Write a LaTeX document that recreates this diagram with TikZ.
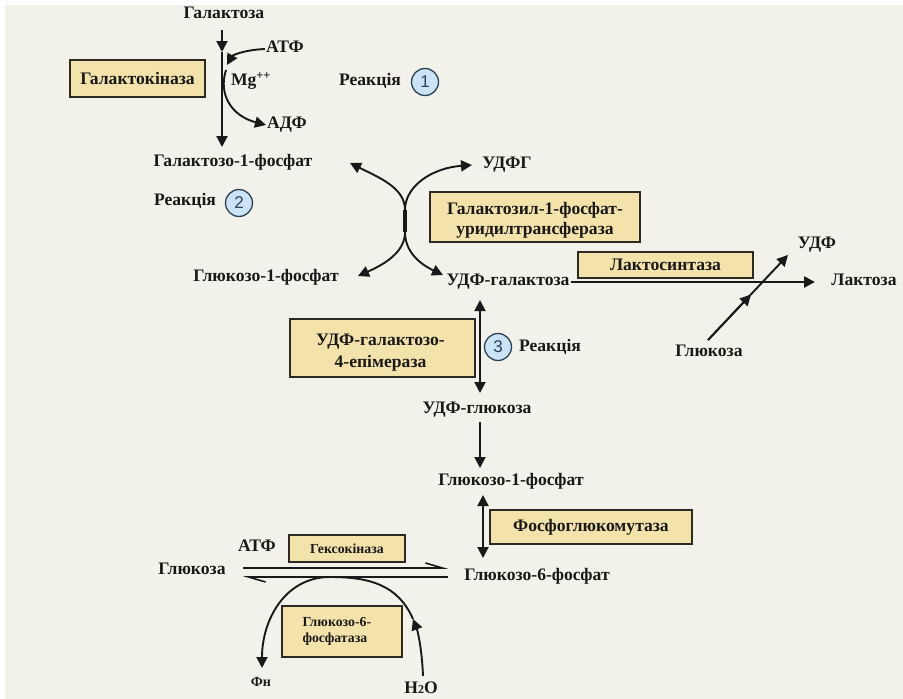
\documentclass[tikz,border=0pt]{standalone}
\usepackage{fontspec}
\setmainfont{Liberation Serif}
\newfontfamily\DigitFont{Liberation Sans}
\usetikzlibrary{arrows.meta}

\definecolor{bgcol}{RGB}{242,242,234}
\definecolor{boxfill}{RGB}{243,226,170}
\definecolor{boxline}{RGB}{45,42,35}
\definecolor{inkcol}{RGB}{25,25,25}
\definecolor{ringfill}{RGB}{202,228,245}
\definecolor{ringline}{RGB}{45,65,85}

\newcommand{\MainFont}{\bfseries\fontsize{17.6}{21}\selectfont}
\newcommand{\SmallFont}{\bfseries\fontsize{13.8}{16}\selectfont}

\tikzset{
  metab/.style={font=\MainFont, text=inkcol, inner sep=1pt,
    text height=0.68em, text depth=0pt},
  enzyme/.style={font=\MainFont, text=inkcol, draw=boxline, fill=boxfill,
    line width=2pt, inner sep=0pt, align=center},
  enzname/.style={font=\MainFont, text=inkcol, inner sep=0pt, align=center},
  reacno/.style={circle, draw=ringline, fill=ringfill, line width=1.3pt,
    minimum size=27, inner sep=0pt, text=ringline,
    font=\DigitFont\fontsize{17}{17}\selectfont},
  flow/.style={draw=inkcol, line width=1.9pt, -{Triangle[length=11pt,width=11pt]}},
  dflow/.style={draw=inkcol, line width=1.9pt,
    {Triangle[length=11pt,width=11pt]}-{Triangle[length=11pt,width=11pt]}},
  halfarrow/.style={draw=inkcol, line width=1.6pt,
    -{Straight Barb[left,length=17pt,width=10pt]}},
}

\begin{document}
\begin{tikzpicture}[x=1pt,y=-1pt]
  \useasboundingbox (0,0) rectangle (903,699);
  \fill[white] (0,0) rectangle (903,699);
  \fill[bgcol] (5,5) rectangle (903,699);

  % enzymes
  \node[enzyme, minimum width=135, minimum height=37] (galk) at (137.5,78.5) {Галактокіназа};
  \node[enzyme, minimum width=210, minimum height=50] (galt) at (535,217) {};
  \node[enzname, font=\bfseries\fontsize{17.6}{20}\selectfont] (galtName) at ([yshift=-3pt]galt.center)
    {Галактозил-1-фосфат-\\уридилтрансфераза};
  \node[enzyme, minimum width=175, minimum height=26] (lacs) at (665.5,265) {Лактосинтаза};
  \node[enzyme, minimum width=185, minimum height=58] (epim) at (382.5,348) {};
  \node[enzname, font=\bfseries\fontsize{17.6}{22}\selectfont] (epimName) at ([xshift=-2pt,yshift=-5pt]epim.center)
    {УДФ-галактозо-\\4-епімераза};
  \node[enzyme, minimum width=202, minimum height=34] (pgm) at (591,527) {Фосфоглюкомутаза};
  \node[enzyme, minimum width=116, minimum height=27, font=\SmallFont] (hexk) at (347,548.5) {Гексокіназа};
  \node[enzyme, minimum width=120, minimum height=51, font=\SmallFont, text width=79, align=left]
    (gpase) at (342,631.5) {Глюкозо-6-\\фосфатаза};

  % metabolites
  \node[metab] (gal)    at (224,15)  {Галактоза};
  \node[metab] (atpA)   at (285,49)  {АТФ};
  \node[metab] (mg)     at (251,82)  {Mg\textsuperscript{++}};
  \node[metab] (adpA)   at (287,125) {АДФ};
  \node[metab] (gal1p)  at (233,163) {Галактозо-1-фосфат};
  \node[metab] (udpg)   at (507,165) {УДФГ};
  \node[metab] (glc1pA) at (266,278) {Глюкозо-1-фосфат};
  \node[metab] (udpgal) at (508,282) {УДФ-галактоза};
  \node[metab] (udp)    at (817,245) {УДФ};
  \node[metab] (lac)    at (864,282) {Лактоза};
  \node[metab] (glcA)   at (709,353) {Глюкоза};
  \node[metab] (udpglc) at (477,410) {УДФ-глюкоза};
  \node[metab] (glc1p)  at (511,482) {Глюкозо-1-фосфат};
  \node[metab] (glc6p)  at (537,577) {Глюкозо-6-фосфат};
  \node[metab] (atpB)   at (257,548) {АТФ};
  \node[metab] (glcB)   at (192,571) {Глюкоза};
  \node[metab, font=\bfseries\fontsize{14}{14}\selectfont] (pin) at (261,683) {Фн};
  \node[metab] (water)  at (421,690) {H{\fontsize{12}{12}\selectfont 2}O};

  % reaction marks
  \node[metab] (reacA) at (370,82)  {Реакція};
  \node[reacno] (numA) at (425,82)  {1};
  \node[metab] (reacB) at (185,202) {Реакція};
  \node[reacno] (numB) at (239,203) {2};
  \node[reacno] (numC) at (498,347) {3};
  \node[metab] (reacC) at (550,348) {Реакція};

  % galactokinase step
  \coordinate (kTop) at (222,30);
  \coordinate (kMid) at (222,52);
  \coordinate (kEnd) at (222,147);
  \draw[flow] (kTop) -- (kMid);
  \draw[flow] (kMid) -- (kEnd);
  \draw[flow] (atpA.west) .. controls (242,50) and (232,56) .. (227,65);
  \draw[flow] (226,70) .. controls (218,95) and (232,116) .. (adpA.west);

  % uridyltransferase cross
  \coordinate (xTop) at (405,210);
  \coordinate (xBot) at (405,232);
  \coordinate (tGal) at (350,163);
  \coordinate (tGlc) at (358,276);
  \coordinate (tUdpg) at (472,165);
  \coordinate (tUgal) at (443,275);
  \draw[dflow] (tGal) .. controls (380,178) and (405,188) .. (xTop) -- (xBot)
    .. controls (405,252) and (385,264) .. (tGlc);
  \draw[dflow] (tUdpg) .. controls (432,168) and (405,186) .. (xTop) -- (xBot)
    .. controls (405,252) and (420,264) .. (tUgal);
  \draw[draw=inkcol, line width=4.5pt] (xTop) -- (xBot);

  % lactose synthase
  \coordinate (lacEnd) at (815,282);
  \coordinate (glcS) at (708,340);
  \coordinate (glcM) at (751,294.5);
  \coordinate (udpT) at (788,255);
  \draw[flow, line width=2.6pt] (udpgal.east) -- (lacEnd);
  \draw[flow] (glcS) -- (udpT);
  \draw[flow] (glcS) -- (glcM);

  % epimerase, mutase
  \draw[dflow] (480,300) -- (480,393);
  \draw[flow] (480,422) -- (480,468);
  \draw[dflow] (483,495) -- (483,558);

  % hexokinase / glucose-6-phosphatase
  \coordinate (eqL1) at (243,568);
  \coordinate (eqR1) at (448,568);
  \coordinate (eqL2) at (243,577);
  \coordinate (eqR2) at (448,577);
  \draw[halfarrow] (eqL1) -- (eqR1);
  \draw[halfarrow] (eqR2) -- (eqL2);
  \coordinate (hMid) at (413,619);
  \draw[flow] (423,676) .. controls (422,650) and (418,632) .. (hMid);
  \draw[flow] (hMid) .. controls (398,585) and (370,577) .. (330,577)
    .. controls (285,577) and (262,620) .. (262,668);
\end{tikzpicture}
\end{document}
